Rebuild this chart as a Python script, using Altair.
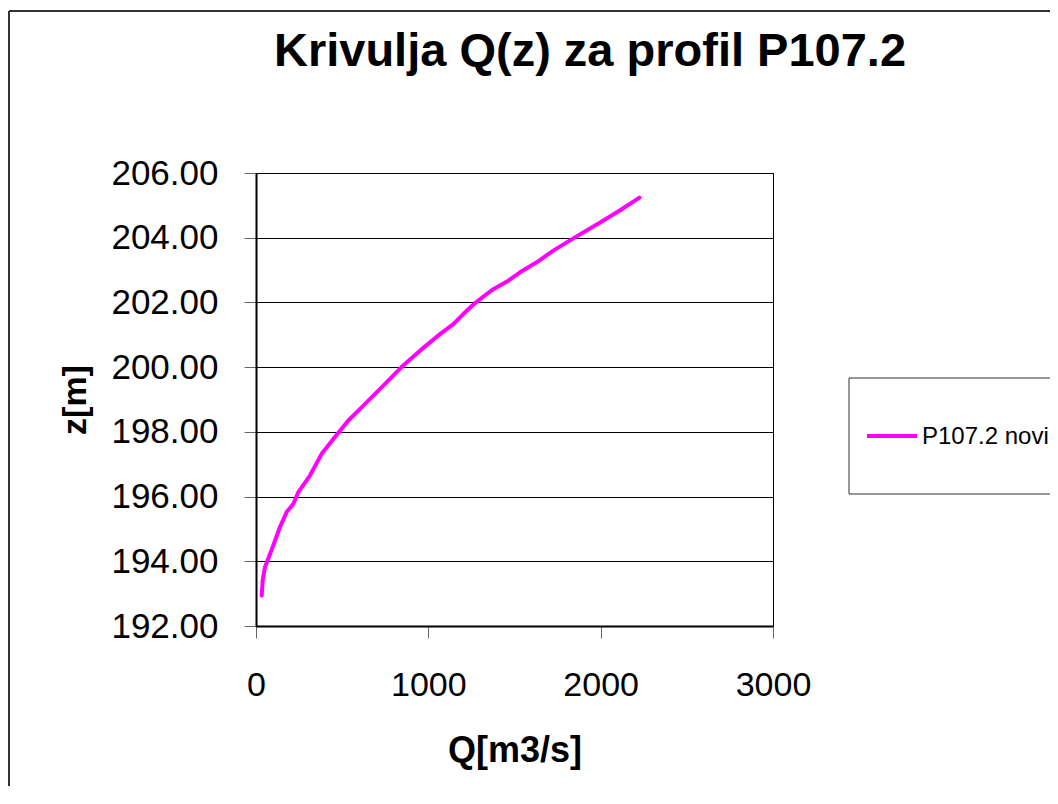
import altair as alt
import pandas as pd

# Data
q_values = [33, 39, 52, 71, 97, 139, 178, 217, 246, 313, 381, 449, 478, 536, 604,
            739, 846, 952, 1068, 1145, 1203, 1271, 1339, 1377, 1464, 1532, 1629,
            1725, 1851, 1997, 2113, 2225]
z_values = [192.94, 193.41, 193.82, 194.08, 194.44, 195.06, 195.52, 195.78, 196.14,
            196.65, 197.32, 197.78, 197.97, 198.35, 198.71, 199.43, 200.01, 200.51,
            201.02, 201.33, 201.64, 201.98, 202.26, 202.41, 202.67, 202.93, 203.24,
            203.60, 204.01, 204.47, 204.85, 205.24]
x_ticks = [0, 1000, 2000, 3000]
y_ticks = [192, 194, 196, 198, 200, 202, 204, 206]
series_name = "P107.2 novi"
series_color = "#FF00FF"
title_text = "Krivulja Q(z) za profil P107.2"
x_title = "Q[m3/s]"
y_title = "z[m]"

FONT = "Liberation Sans"
W, H = 517, 453

df = pd.DataFrame({"Q": q_values, "z": z_values, "order": list(range(len(q_values)))})

curve = alt.Chart(df).mark_line(color=series_color, strokeWidth=4, strokeCap="round",
                                strokeJoin="round").encode(
    x=alt.X("Q:Q", scale=alt.Scale(domain=[0, 3000], nice=False),
            axis=alt.Axis(values=x_ticks, format="d", title=x_title, grid=False,
                          titleFontSize=36, titleFontWeight="bold", titleFont=FONT,
                          titleX=W / 2, titleY=124, titleBaseline="middle",
                          labelFontSize=34, labelPadding=47, labelBaseline="middle",
                          labelFlush=False, labelOverlap=False, tickSize=12)),
    y=alt.Y("z:Q", scale=alt.Scale(domain=[192, 206], nice=False, zero=False),
            axis=alt.Axis(values=y_ticks, format=".2f", title=y_title, grid=True,
                          titleFontSize=34, titleFontWeight="bold", titleFont=FONT,
                          titleAngle=270, titleX=-181, titleY=H / 2,
                          titleBaseline="middle", titleAlign="center",
                          labelFontSize=35, labelPadding=26, labelFlush=False,
                          labelOverlap=False, tickSize=12)),
    order="order:Q",
)

one = alt.Data(values=[{}])

# chart title
title_mark = alt.Chart(one).mark_text(align="center", baseline="middle", font=FONT,
                                      fontSize=47, fontWeight="bold", color="black").encode(
    x=alt.value(334), y=alt.value(-121), text=alt.value(title_text))

# outer chart frame (left and top edges)
frame_left = alt.Chart(one).mark_rule(color="#333333", strokeWidth=2).encode(
    x=alt.value(-247), y=alt.value(-162), y2=alt.value(H + 200))
frame_top = alt.Chart(one).mark_rule(color="#333333", strokeWidth=2).encode(
    x=alt.value(-247), x2=alt.value(W + 300), y=alt.value(-162))

# legend box
legend_box = alt.Chart(one).mark_rect(fill="white", stroke="#333333", strokeWidth=1).encode(
    x=alt.value(593), x2=alt.value(830), y=alt.value(205), y2=alt.value(321))
legend_line = alt.Chart(one).mark_rule(color=series_color, strokeWidth=4).encode(
    x=alt.value(611), x2=alt.value(661), y=alt.value(263))
legend_text = alt.Chart(one).mark_text(align="left", baseline="middle", font=FONT,
                                       fontSize=24, color="black").encode(
    x=alt.value(666), y=alt.value(264), text=alt.value(series_name))

chart = alt.layer(curve, title_mark, frame_left, frame_top, legend_box, legend_line,
                  legend_text).properties(
    width=W, height=H,
    autosize=alt.AutoSizeParams(type="none"),
    padding={"left": 248, "top": 165, "right": 277, "bottom": 160},
).configure_view(
    stroke="black", strokeWidth=1
).configure_axis(
    labelFont=FONT, labelColor="black", titleColor="black",
    domainColor="black", domainWidth=2, tickColor="#666666", tickWidth=1,
    gridColor="black", gridOpacity=1, gridWidth=1,
)

chart.save("out.html", embed_options={"renderer": "svg", "actions": False})
